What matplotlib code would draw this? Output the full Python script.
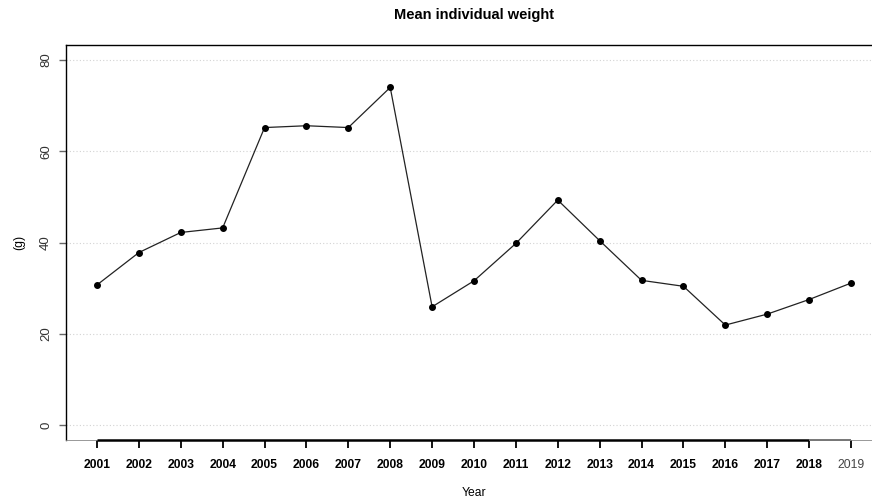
import matplotlib
matplotlib.use("Agg")
import matplotlib.pyplot as plt

plt.rcParams["font.family"] = ["Liberation Sans", "DejaVu Sans"]

# Mean individual weight per year (g)
years = [2001, 2002, 2003, 2004, 2005, 2006, 2007, 2008, 2009, 2010,
         2011, 2012, 2013, 2014, 2015, 2016, 2017, 2018, 2019]
weight = [30.7, 37.8, 42.2, 43.2, 65.2, 65.6, 65.2, 74.0, 25.9, 31.6,
          39.8, 49.3, 40.4, 31.7, 30.4, 21.9, 24.3, 27.5, 31.1]
y_ticks = [0, 20, 40, 60, 80]

fig = plt.figure(figsize=(8.72, 5.0), dpi=100)
ax = fig.add_axes([66 / 872, 60 / 500, 816 / 872, 395 / 500])

y_lo, y_hi = -3.3, 83.3
ax.set_xlim(2000.26, 2019.74)
ax.set_ylim(y_lo, y_hi)

# light dotted grid, drawn by hand like the R version
for yt in y_ticks:
    ax.axhline(yt, color="#d3d3d3", lw=0.8, ls=(0, (1, 2)), zorder=0)

ax.plot(years, weight, color="#222222", lw=0.9, marker="o", ms=4.0,
        mfc="black", mec="black", zorder=3)

# frame: left and top solid, bottom thin grey, thick axis line under the years
ax.spines["right"].set_visible(False)
ax.spines["left"].set_linewidth(1.0)
ax.spines["top"].set_linewidth(1.0)
ax.spines["bottom"].set_color("#888888")
ax.spines["bottom"].set_linewidth(0.6)
ax.hlines(y_lo, years[0], years[-2], color="black", lw=1.8, clip_on=False, zorder=2.6)
ax.hlines(y_lo, years[-2], years[-1], color="#777777", lw=1.4, clip_on=False, zorder=2.6)

ax.set_xticks(years)
ax.set_xticklabels([str(y) for y in years], fontsize=8.7, fontweight="bold")
ax.tick_params(axis="x", direction="out", length=5.5, width=1.3, pad=8, color="black")
last = ax.xaxis.get_major_ticks()[-1]
last.tick1line.set_color("#777777")
last.label1.set_fontweight("normal")
last.label1.set_color("#444444")

ax.set_yticks(y_ticks)
ax.set_yticklabels([str(v) for v in y_ticks], fontsize=9.5, rotation=90,
                   va="center", color="#333333")
ax.tick_params(axis="y", direction="out", length=5, width=1.0, pad=5, color="#666666")

ax.set_xlabel("Year", fontsize=8.7, labelpad=11.5)
ax.set_ylabel("(g)", fontsize=8.7, labelpad=11)
fig.text(474 / 872, 1 - 15 / 500, "Mean individual weight", ha="center", va="center",
         fontsize=10.5, fontweight="bold")

fig.savefig("out.png", dpi=100)
